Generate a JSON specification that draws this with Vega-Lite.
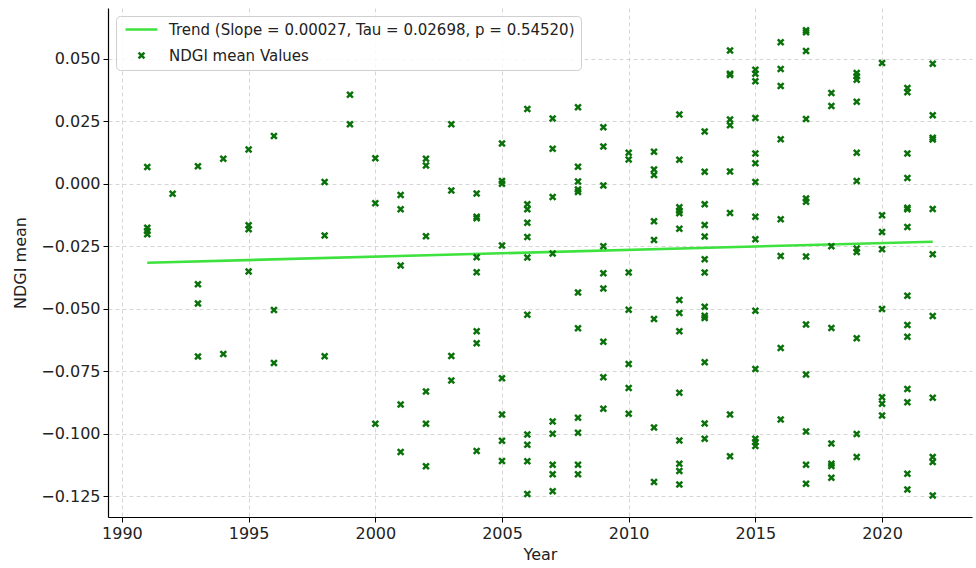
{
  "$schema": "https://vega.github.io/schema/vega-lite/v6.json",
  "width": 864,
  "height": 509,
  "autosize": {"type": "none"},
  "padding": {"left": 108, "top": 8, "right": 4, "bottom": 51},
  "background": "white",
  "config": {
    "view": {"stroke": null},
    "font": "DejaVu Sans",
    "axis": {
      "labelFont": "DejaVu Sans",
      "titleFont": "DejaVu Sans",
      "labelFontSize": 16,
      "titleFontSize": 16,
      "titleFontWeight": "normal",
      "labelColor": "#222222",
      "titleColor": "#222222",
      "domainColor": "#000000",
      "domainWidth": 1.2,
      "tickColor": "#000000",
      "tickSize": 5,
      "grid": true,
      "gridDash": [4, 3],
      "gridColor": "#cccccc",
      "gridWidth": 0.8
    },
    "legend": {
      "labelFont": "DejaVu Sans",
      "labelFontSize": 15,
      "labelColor": "#222222",
      "labelLimit": 0
    }
  },
  "layer": [
    {
      "data": {"values": [
        {"year": 1991, "ndgi": -0.0316},
        {"year": 2022, "ndgi": -0.0232}
      ]},
      "mark": {"type": "line", "strokeWidth": 2.6},
      "encoding": {
        "x": {"field": "year", "type": "quantitative", "scale": {"domain": [1989.45, 2023.55], "nice": false, "zero": false},
              "axis": {"title": "Year", "values": [1990, 1995, 2000, 2005, 2010, 2015, 2020], "format": "d", "labelPadding": 3, "titlePadding": 5}},
        "y": {"field": "ndgi", "type": "quantitative", "scale": {"domain": [-0.1333, 0.0703], "nice": false, "zero": false},
              "axis": {"title": "NDGI mean", "values": [-0.125, -0.1, -0.075, -0.05, -0.025, 0, 0.025, 0.05], "format": ".3f", "labelPadding": 3, "titlePadding": 12}},
        "color": {"datum": "Trend (Slope = 0.00027, Tau = 0.02698, p = 0.54520)",
                  "scale": {"domain": ["Trend (Slope = 0.00027, Tau = 0.02698, p = 0.54520)", "NDGI mean Values"], "range": ["#3ee23e", "#0b720b"]},
                  "legend": {"title": null, "orient": "top-left", "offset": 8, "fillColor": "rgba(255,255,255,0.85)", "strokeColor": "#cfcfcf", "cornerRadius": 4, "padding": 6, "symbolSize": 113, "symbolStrokeWidth": 2.5, "rowPadding": 9, "symbolOffset": 12, "labelOffset": 20}},
        "shape": {"datum": "Trend (Slope = 0.00027, Tau = 0.02698, p = 0.54520)",
                  "scale": {"domain": ["Trend (Slope = 0.00027, Tau = 0.02698, p = 0.54520)", "NDGI mean Values"], "range": ["M-3,0L3,0", "M-0.55,-0.55L0.55,0.55M-0.55,0.55L0.55,-0.55"]}}
      }
    },
    {
      "data": {"values": [
        {"year":1991,"ndgi":0.0067},{"year":1991,"ndgi":-0.0176},{"year":1991,"ndgi":-0.0189},{"year":1991,"ndgi":-0.0202},
        {"year":1992,"ndgi":-0.0040},
        {"year":1993,"ndgi":0.0070},{"year":1993,"ndgi":-0.0402},{"year":1993,"ndgi":-0.0479},{"year":1993,"ndgi":-0.0691},
        {"year":1994,"ndgi":0.0100},{"year":1994,"ndgi":-0.0681},
        {"year":1995,"ndgi":0.0137},{"year":1995,"ndgi":-0.0166},{"year":1995,"ndgi":-0.0182},{"year":1995,"ndgi":-0.0351},
        {"year":1996,"ndgi":0.0191},{"year":1996,"ndgi":-0.0505},{"year":1996,"ndgi":-0.0717},
        {"year":1998,"ndgi":0.0007},{"year":1998,"ndgi":-0.0207},{"year":1998,"ndgi":-0.0690},
        {"year":1999,"ndgi":0.0356},{"year":1999,"ndgi":0.0238},
        {"year":2000,"ndgi":0.0102},{"year":2000,"ndgi":-0.0078},{"year":2000,"ndgi":-0.0960},
        {"year":2001,"ndgi":-0.0045},{"year":2001,"ndgi":-0.0102},{"year":2001,"ndgi":-0.0327},{"year":2001,"ndgi":-0.0883},{"year":2001,"ndgi":-0.1073},
        {"year":2002,"ndgi":0.0100},{"year":2002,"ndgi":0.0073},{"year":2002,"ndgi":-0.0210},{"year":2002,"ndgi":-0.0831},{"year":2002,"ndgi":-0.0960},{"year":2002,"ndgi":-0.1130},
        {"year":2003,"ndgi":0.0238},{"year":2003,"ndgi":-0.0027},{"year":2003,"ndgi":-0.0689},{"year":2003,"ndgi":-0.0787},
        {"year":2004,"ndgi":-0.0039},{"year":2004,"ndgi":-0.0132},{"year":2004,"ndgi":-0.0138},{"year":2004,"ndgi":-0.0294},{"year":2004,"ndgi":-0.0354},{"year":2004,"ndgi":-0.0590},{"year":2004,"ndgi":-0.0638},{"year":2004,"ndgi":-0.1069},
        {"year":2005,"ndgi":0.0161},{"year":2005,"ndgi":0.0011},{"year":2005,"ndgi":0.0000},{"year":2005,"ndgi":-0.0247},{"year":2005,"ndgi":-0.0778},{"year":2005,"ndgi":-0.0923},{"year":2005,"ndgi":-0.1028},{"year":2005,"ndgi":-0.1109},
        {"year":2006,"ndgi":0.0299},{"year":2006,"ndgi":-0.0082},{"year":2006,"ndgi":-0.0102},{"year":2006,"ndgi":-0.0156},{"year":2006,"ndgi":-0.0213},{"year":2006,"ndgi":-0.0295},{"year":2006,"ndgi":-0.0524},{"year":2006,"ndgi":-0.1003},{"year":2006,"ndgi":-0.1044},{"year":2006,"ndgi":-0.1110},{"year":2006,"ndgi":-0.1241},
        {"year":2007,"ndgi":0.0261},{"year":2007,"ndgi":0.0140},{"year":2007,"ndgi":-0.0053},{"year":2007,"ndgi":-0.0279},{"year":2007,"ndgi":-0.0951},{"year":2007,"ndgi":-0.1000},{"year":2007,"ndgi":-0.1124},{"year":2007,"ndgi":-0.1162},{"year":2007,"ndgi":-0.1230},
        {"year":2008,"ndgi":0.0306},{"year":2008,"ndgi":0.0068},{"year":2008,"ndgi":0.0009},{"year":2008,"ndgi":-0.0023},{"year":2008,"ndgi":-0.0033},{"year":2008,"ndgi":-0.0435},{"year":2008,"ndgi":-0.0578},{"year":2008,"ndgi":-0.0936},{"year":2008,"ndgi":-0.0996},{"year":2008,"ndgi":-0.1124},{"year":2008,"ndgi":-0.1162},
        {"year":2009,"ndgi":0.0226},{"year":2009,"ndgi":0.0149},{"year":2009,"ndgi":-0.0007},{"year":2009,"ndgi":-0.0250},{"year":2009,"ndgi":-0.0358},{"year":2009,"ndgi":-0.0419},{"year":2009,"ndgi":-0.0632},{"year":2009,"ndgi":-0.0774},{"year":2009,"ndgi":-0.0900},
        {"year":2010,"ndgi":0.0124},{"year":2010,"ndgi":0.0097},{"year":2010,"ndgi":-0.0355},{"year":2010,"ndgi":-0.0504},{"year":2010,"ndgi":-0.0721},{"year":2010,"ndgi":-0.0817},{"year":2010,"ndgi":-0.0920},
        {"year":2011,"ndgi":0.0128},{"year":2011,"ndgi":0.0057},{"year":2011,"ndgi":0.0035},{"year":2011,"ndgi":-0.0150},{"year":2011,"ndgi":-0.0225},{"year":2011,"ndgi":-0.0541},{"year":2011,"ndgi":-0.0975},{"year":2011,"ndgi":-0.1193},
        {"year":2012,"ndgi":0.0277},{"year":2012,"ndgi":0.0096},{"year":2012,"ndgi":-0.0094},{"year":2012,"ndgi":-0.0108},{"year":2012,"ndgi":-0.0118},{"year":2012,"ndgi":-0.0180},{"year":2012,"ndgi":-0.0465},{"year":2012,"ndgi":-0.0517},{"year":2012,"ndgi":-0.0590},{"year":2012,"ndgi":-0.0836},{"year":2012,"ndgi":-0.1027},{"year":2012,"ndgi":-0.1120},{"year":2012,"ndgi":-0.1149},{"year":2012,"ndgi":-0.1203},
        {"year":2013,"ndgi":0.0209},{"year":2013,"ndgi":0.0048},{"year":2013,"ndgi":-0.0082},{"year":2013,"ndgi":-0.0165},{"year":2013,"ndgi":-0.0211},{"year":2013,"ndgi":-0.0302},{"year":2013,"ndgi":-0.0355},{"year":2013,"ndgi":-0.0492},{"year":2013,"ndgi":-0.0528},{"year":2013,"ndgi":-0.0537},{"year":2013,"ndgi":-0.0714},{"year":2013,"ndgi":-0.0959},{"year":2013,"ndgi":-0.1020},
        {"year":2014,"ndgi":0.0533},{"year":2014,"ndgi":0.0440},{"year":2014,"ndgi":0.0435},{"year":2014,"ndgi":0.0257},{"year":2014,"ndgi":0.0234},{"year":2014,"ndgi":0.0049},{"year":2014,"ndgi":-0.0117},{"year":2014,"ndgi":-0.0923},{"year":2014,"ndgi":-0.1090},
        {"year":2015,"ndgi":0.0456},{"year":2015,"ndgi":0.0440},{"year":2015,"ndgi":0.0410},{"year":2015,"ndgi":0.0263},{"year":2015,"ndgi":0.0121},{"year":2015,"ndgi":0.0082},{"year":2015,"ndgi":0.0007},{"year":2015,"ndgi":-0.0132},{"year":2015,"ndgi":-0.0222},{"year":2015,"ndgi":-0.0508},{"year":2015,"ndgi":-0.0741},{"year":2015,"ndgi":-0.1020},{"year":2015,"ndgi":-0.1033},{"year":2015,"ndgi":-0.1049},
        {"year":2016,"ndgi":0.0566},{"year":2016,"ndgi":0.0459},{"year":2016,"ndgi":0.0391},{"year":2016,"ndgi":0.0178},{"year":2016,"ndgi":-0.0142},{"year":2016,"ndgi":-0.0289},{"year":2016,"ndgi":-0.0657},{"year":2016,"ndgi":-0.0943},
        {"year":2017,"ndgi":0.0614},{"year":2017,"ndgi":0.0606},{"year":2017,"ndgi":0.0531},{"year":2017,"ndgi":0.0259},{"year":2017,"ndgi":-0.0059},{"year":2017,"ndgi":-0.0072},{"year":2017,"ndgi":-0.0291},{"year":2017,"ndgi":-0.0563},{"year":2017,"ndgi":-0.0763},{"year":2017,"ndgi":-0.0991},{"year":2017,"ndgi":-0.1124},{"year":2017,"ndgi":-0.1200},
        {"year":2018,"ndgi":0.0363},{"year":2018,"ndgi":0.0311},{"year":2018,"ndgi":-0.0250},{"year":2018,"ndgi":-0.0577},{"year":2018,"ndgi":-0.1039},{"year":2018,"ndgi":-0.1120},{"year":2018,"ndgi":-0.1129},{"year":2018,"ndgi":-0.1176},
        {"year":2019,"ndgi":0.0443},{"year":2019,"ndgi":0.0430},{"year":2019,"ndgi":0.0416},{"year":2019,"ndgi":0.0328},{"year":2019,"ndgi":0.0124},{"year":2019,"ndgi":0.0011},{"year":2019,"ndgi":-0.0259},{"year":2019,"ndgi":-0.0273},{"year":2019,"ndgi":-0.0618},{"year":2019,"ndgi":-0.1001},{"year":2019,"ndgi":-0.1093},
        {"year":2020,"ndgi":0.0483},{"year":2020,"ndgi":-0.0126},{"year":2020,"ndgi":-0.0193},{"year":2020,"ndgi":-0.0262},{"year":2020,"ndgi":-0.0501},{"year":2020,"ndgi":-0.0854},{"year":2020,"ndgi":-0.0880},{"year":2020,"ndgi":-0.0927},
        {"year":2021,"ndgi":0.0383},{"year":2021,"ndgi":0.0366},{"year":2021,"ndgi":0.0121},{"year":2021,"ndgi":0.0023},{"year":2021,"ndgi":-0.0096},{"year":2021,"ndgi":-0.0102},{"year":2021,"ndgi":-0.0173},{"year":2021,"ndgi":-0.0448},{"year":2021,"ndgi":-0.0565},{"year":2021,"ndgi":-0.0612},{"year":2021,"ndgi":-0.0821},{"year":2021,"ndgi":-0.0874},{"year":2021,"ndgi":-0.1160},{"year":2021,"ndgi":-0.1223},
        {"year":2022,"ndgi":0.0480},{"year":2022,"ndgi":0.0274},{"year":2022,"ndgi":0.0184},{"year":2022,"ndgi":0.0177},{"year":2022,"ndgi":-0.0101},{"year":2022,"ndgi":-0.0282},{"year":2022,"ndgi":-0.0529},{"year":2022,"ndgi":-0.0856},{"year":2022,"ndgi":-0.1093},{"year":2022,"ndgi":-0.1113},{"year":2022,"ndgi":-0.1247}
      ]},
      "mark": {"type": "point", "size": 113, "strokeWidth": 2.5, "filled": false, "opacity": 1},
      "encoding": {
        "x": {"field": "year", "type": "quantitative"},
        "y": {"field": "ndgi", "type": "quantitative"},
        "color": {"datum": "NDGI mean Values"},
        "shape": {"datum": "NDGI mean Values"}
      }
    }
  ]
}
